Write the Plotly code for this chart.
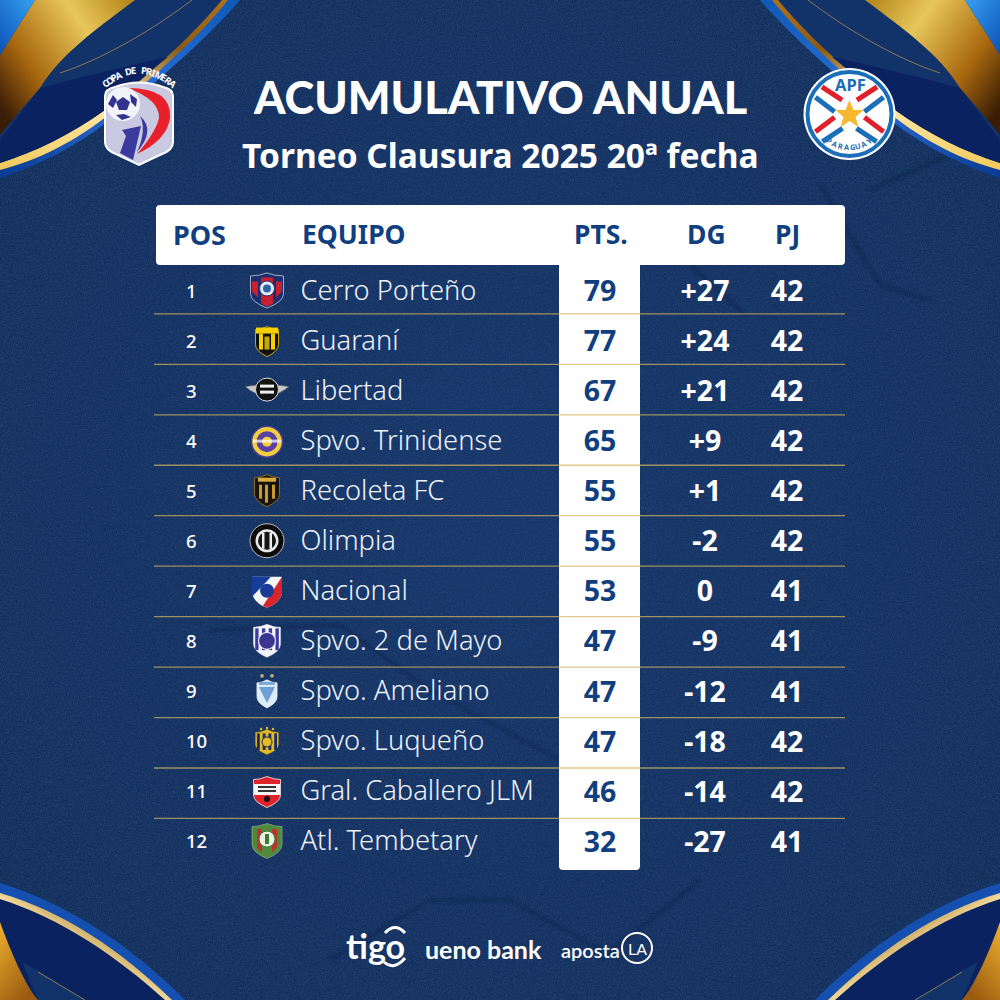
import base64
import math
import plotly.graph_objects as go

# ---------- data ----------
positions = list(range(1, 13))
teams = ["Cerro Porteño", "Guaraní", "Libertad", "Spvo. Trinidense", "Recoleta FC", "Olimpia",
         "Nacional", "Spvo. 2 de Mayo", "Spvo. Ameliano", "Spvo. Luqueño", "Gral. Caballero JLM",
         "Atl. Tembetary"]
points = [79, 77, 67, 65, 55, 55, 53, 47, 47, 47, 46, 32]
goal_diff = [27, 24, 21, 9, 1, -2, 0, -9, -12, -18, -14, -27]
played = [42, 42, 42, 42, 42, 42, 41, 41, 41, 42, 42, 41]
headers = ["POS", "EQUIPO", "PTS.", "DG", "PJ"]
title = "ACUMULATIVO ANUAL"
subtitle = "Torneo Clausura 2025 20ª fecha"

# ---------- styling ----------
FONT = "Noto Sans"
NAVY = "#0f3f7f"
ROW0, ROWH = 290.5, 50.05


def row_px(r):
    return ROW0 + (r - 1) * ROWH


def shield(cx, cy, w, h, fill, stroke="none", sw=1):
    x0, x1, t = cx - w / 2, cx + w / 2, cy - h / 2
    return (f'<path d="M{x0},{t+3} Q{cx-w/4},{t+3} {cx},{t} Q{cx+w/4},{t+3} {x1},{t+3} L{x1},{cy+h*0.1} '
            f'Q{x1},{cy+h*0.32} {cx},{cy+h/2} Q{x0},{cy+h*0.32} {x0},{cy+h*0.1} Z" '
            f'fill="{fill}" stroke="{stroke}" stroke-width="{sw}"/>')


def stripes(cx, cy, w, h, colour, n):
    s = ""
    for i in range(n):
        x = cx - w / 2 + (i + 0.5) * w / n
        s += f'<rect x="{x-w/(2*n)*0.5}" y="{cy-h/2+4}" width="{w/(2*n)}" height="{h*0.66}" fill="{colour}"/>'
    return s


def crest(r):
    c, y = 267, row_px(r)
    if r == 1:
        return (shield(c, y, 33, 35, "#1b2f6e", "#c9ccd8", 0.8)
                + f'<path d="M{c-15},{y-9} h6 v16 l-6,-6Z M{c+9},{y-9} h6 v10 l-6,6Z M{c-6},{y-13} h12 v26 l-6,3 l-6,-3Z" fill="#c8202f"/>'
                + f'<circle cx="{c}" cy="{y-2}" r="7.5" fill="#e7ebf5" stroke="#1b2f6e"/><circle cx="{c}" cy="{y-2}" r="4" fill="#2f62a8"/>')
    if r == 2:
        return (shield(c, y + 1, 23, 30, "#101010", "#f0c800", 0.8)
                + f'<rect x="{c-11}" y="{y-13}" width="22" height="6" fill="#f4d000"/>'
                + f'<rect x="{c-8}" y="{y-7}" width="4" height="16" fill="#f4d000"/><rect x="{c+4}" y="{y-7}" width="4" height="16" fill="#f4d000"/>'
                + f'<rect x="{c-2.5}" y="{y-4}" width="5" height="13" fill="#c9a800"/>')
    if r == 3:
        return (f'<path d="M{c-22},{y-4} Q{c},{y-8} {c+22},{y-4} Q{c+12},{y+5} {c},{y+5} Q{c-12},{y+5} {c-22},{y-4}Z" fill="#c8c8c8" stroke="#555" stroke-width="0.7"/>'
                + f'<circle cx="{c}" cy="{y-1}" r="11.5" fill="#111" stroke="#ddd"/>'
                + f'<rect x="{c-7}" y="{y-6}" width="14" height="3" fill="#eee"/><rect x="{c-7}" y="{y}" width="14" height="3" fill="#eee"/>')
    if r == 4:
        return (f'<circle cx="{c}" cy="{y+1}" r="15.5" fill="#f1cf3b" stroke="#4b3a9c" stroke-width="1.5"/>'
                + f'<circle cx="{c}" cy="{y+1}" r="10.5" fill="#5a3fa5"/><circle cx="{c}" cy="{y+1}" r="5" fill="#f1cf3b"/>'
                + f'<rect x="{c-14}" y="{y-1}" width="28" height="3" fill="#fff" opacity=".7"/>')
    if r == 5:
        return (shield(c, y, 25, 32, "#17140f", "#8a6a1e", 1)
                + f'<rect x="{c-8}" y="{y-6}" width="3" height="14" fill="#c9982e"/><rect x="{c+5}" y="{y-6}" width="3" height="14" fill="#c9982e"/>'
                + f'<rect x="{c-2}" y="{y-6}" width="3" height="18" fill="#c9982e"/><rect x="{c-9}" y="{y-13}" width="18" height="4" fill="#d9aa3c"/>')
    if r == 6:
        return (f'<circle cx="{c}" cy="{y}" r="17" fill="#0b0b0b" stroke="#bdbdbd" stroke-width="1"/>'
                + f'<circle cx="{c}" cy="{y}" r="11.5" fill="#e9e9e9"/><circle cx="{c}" cy="{y}" r="9" fill="#151515"/>'
                + f'<rect x="{c-5}" y="{y-8}" width="2.5" height="16" fill="#eee"/><rect x="{c+2.5}" y="{y-8}" width="2.5" height="16" fill="#eee"/>')
    if r == 7:
        return (f'<path d="M{c-15},{y-14} H{c+15} V{y+3} Q{c+12},{y+13} {c},{y+17} Q{c-12},{y+13} {c-15},{y+3}Z" fill="#f5f5f5"/>'
                + f'<path d="M{c-15},{y-14} H{c+4} L{c-15},{y+6}Z" fill="#143e9a"/>'
                + f'<path d="M{c+15},{y-14} V{y+3} Q{c+12},{y+13} {c},{y+17} L{c-4},{y+15} Z" fill="#d9232e"/>'
                + f'<circle cx="{c}" cy="{y}" r="7" fill="#1a3c96"/>')
    if r == 8:
        return (shield(c, y, 27, 33, "#f4f4fb", "#dfe0f0", 0.5)
                + stripes(c, y, 27, 33, "#3c3a9f", 4)
                + f'<circle cx="{c}" cy="{y}" r="8.5" fill="#3a358f" stroke="#e9e9f6" stroke-width="1.2"/>')
    if r == 9:
        return (f'<circle cx="{c-5}" cy="{y-15}" r="1.8" fill="#c9b27a"/><circle cx="{c+5}" cy="{y-15}" r="1.8" fill="#c9b27a"/>'
                + shield(c, y + 3, 20, 28, "#dcebf8", "#fff", 0.8)
                + f'<path d="M{c-8},{y-4} H{c+8} L{c},{y+12}Z" fill="#6f9fd4"/>'
                + f'<rect x="{c-8}" y="{y-9}" width="16" height="3" fill="#7aa9da"/>')
    if r == 10:
        return (shield(c, y + 1, 23, 25, "#e3ba22", "#b58d16", 0.5)
                + stripes(c, y + 1, 23, 25, "#1c2c62", 4)
                + f'<circle cx="{c}" cy="{y+1}" r="5" fill="#e3ba22" stroke="#1c2c62"/>'
                + f'<circle cx="{c-6}" cy="{y-12}" r="1.2" fill="#e3ba22"/><circle cx="{c}" cy="{y-13}" r="1.2" fill="#e3ba22"/><circle cx="{c+6}" cy="{y-12}" r="1.2" fill="#e3ba22"/>')
    if r == 11:
        return (shield(c, y + 1, 27, 31, "#e1222b", "#f4f4f4", 0.8)
                + f'<rect x="{c-13}" y="{y-7}" width="26" height="11" fill="#f4f4f4"/>'
                + f'<rect x="{c-9}" y="{y-5}" width="18" height="2" fill="#333"/><rect x="{c-9}" y="{y-1}" width="18" height="2" fill="#333"/>'
                + f'<circle cx="{c}" cy="{y+8}" r="3" fill="#111"/>')
    return (shield(c, y, 30, 35, "#4f8a3c", "#a9b79a", 0.6)
            + f'<path d="M{c-10},{y-12} h5 v24 l-5,-5Z M{c+5},{y-12} h5 v18 l-5,5Z" fill="#b8352b"/>'
            + f'<circle cx="{c}" cy="{y-2}" r="8" fill="#eef2e6" stroke="#3d7a33"/>'
            + f'<rect x="{c-2}" y="{y-7}" width="4" height="10" fill="#3d7a33"/>')


corner_top = """
<path d="M240,0 C210,35 170,70 120,112 C80,145 40,165 0,178 L0,0Z" fill="url(#blue)"/>
<path d="M228,0 C200,35 170,62 112,112 C75,142 38,160 0,170 L0,0Z" fill="url(#goldline)"/>
<path d="M222,0 C190,38 160,64 105,110 C70,135 35,152 0,163 L0,0Z" fill="#12326a"/>
<path d="M0,163 C35,152 70,135 105,110 C125,95 145,75 168,57 C120,68 75,78 40,88 L0,140Z" fill="#0a2260"/>
<path d="M35,0 L135,0 C95,30 60,55 40,88 C25,105 12,120 0,135 L0,55Z" fill="url(#gold)"/>
<path d="M0,0 L35,0 L0,55Z" fill="url(#dots)"/>
<path d="M192,0 C150,32 100,60 60,73" fill="none" stroke="#a88a45" stroke-width="0.8"/>
"""
corner_bottom = """
<path d="M0,883 C70,905 130,945 185,1000 L0,1000Z" fill="#1550b0"/>
<path d="M0,893 C65,912 120,950 172,1000 L0,1000Z" fill="url(#goldline)"/>
<path d="M0,899 C60,918 115,955 165,1000 L0,1000Z" fill="#0a2260"/>
<path d="M22,962 L40,972 L85,1000 L38,1000Z" fill="#12326a"/>
<path d="M0,922 C10,950 25,985 38,1000 L0,1000Z" fill="url(#gold2)"/>
<path d="M38,972 L85,1000" fill="none" stroke="#a88a45" stroke-width="0.8"/>
"""
copa_logo = """
<path d="M105,96 Q105,89 115,87 Q139,78 163,87 Q173,89 173,96 V142 Q173,150 162,154 L139,165 L116,154 Q105,150 105,142Z" fill="#c9c9e2" stroke="#fff" stroke-width="2"/>
<path d="M128,88 Q172,88 170,118 Q167,140 137,154 Q156,132 159,118 Q160,100 128,88Z" fill="#e8202a"/>
<path d="M140,116 Q156,130 137,152 Q147,130 140,116Z" fill="#3a3a9c"/>
<path d="M122,130 L141,126 L133,160 L120,153 L126,136Z" fill="#3a3a9c"/>
<circle cx="123" cy="104" r="17" fill="#f3f3fa"/>
<path d="M123,97 L130,102 L127,110 L119,110 L116,102Z M108,104 L113,95 L117,100 L113,108Z M130,94 L137,99 L136,107 L131,102Z M116,115 L124,114 L131,117 L122,120Z" fill="#33338f"/>
"""


def apf_logo():
    cx, cy = 849.5, 114
    s = (f'<circle cx="{cx}" cy="{cy}" r="46" fill="#fff"/><circle cx="{cx}" cy="{cy}" r="42" fill="none" stroke="#1b6fb8" stroke-width="4"/>')
    for (dx, dy, col, a) in [(-17.5, -20.5, "#e0202a", 33), (17.5, -20.5, "#e0202a", -33), (-24.5, -9.5, "#1b6fb8", 37), (24.5, -9.5, "#1b6fb8", -37),
                             (-24.5, 10.5, "#e0202a", -37), (24.5, 10.5, "#e0202a", 37), (-17, 21, "#1b6fb8", -33), (17, 21, "#1b6fb8", 33)]:
        s += f'<rect x="{cx+dx-12}" y="{cy+dy-2.5}" width="24" height="5" fill="{col}" transform="rotate({a} {cx+dx} {cy+dy})"/>'
    s += f'<polygon points="{cx},{cy-14} {cx+4},{cy-4} {cx+14},{cy-4} {cx+6},{cy+3} {cx+9},{cy+13} {cx},{cy+7} {cx-9},{cy+13} {cx-6},{cy+3} {cx-14},{cy-4} {cx-4},{cy-4}" fill="#f5b82e"/>'
    return s


svg = f"""<svg xmlns="http://www.w3.org/2000/svg" width="1000" height="1000" viewBox="0 0 1000 1000">
<defs>
<radialGradient id="bg" cx="50%" cy="50%" r="70%"><stop offset="0" stop-color="#14356c"/><stop offset="1" stop-color="#0f2a58"/></radialGradient>
<linearGradient id="gold" x1="0" y1="0.8" x2="1" y2="0.1"><stop offset="0" stop-color="#3a1d04"/><stop offset=".3" stop-color="#a8680f"/><stop offset=".7" stop-color="#e8c75a"/><stop offset="1" stop-color="#b98a1e"/></linearGradient>
<linearGradient id="gold2" x1="0" y1="0" x2="0.6" y2="1"><stop offset="0" stop-color="#f0b030"/><stop offset="1" stop-color="#9a5c10"/></linearGradient>
<linearGradient id="goldline" x1="0" y1="1" x2="1" y2="0"><stop offset="0" stop-color="#f2c85a"/><stop offset=".45" stop-color="#ffe9a8"/><stop offset=".75" stop-color="#8a5a14"/><stop offset="1" stop-color="#b0721c"/></linearGradient>
<linearGradient id="blue" x1="0" y1="1" x2="1" y2="0"><stop offset="0" stop-color="#0a3a90"/><stop offset=".5" stop-color="#2a6fd8"/><stop offset="1" stop-color="#0f5ab8"/></linearGradient>
<linearGradient id="dots" x1="0" y1="1" x2="1" y2="0"><stop offset="0" stop-color="#0c52b8"/><stop offset="1" stop-color="#35a0f0"/></linearGradient>
<filter id="grain" x="0" y="0" width="100%" height="100%"><feTurbulence type="fractalNoise" baseFrequency="0.75" numOctaves="2" seed="4"/><feColorMatrix values="0 0 0 0 0.02  0 0 0 0 0.06  0 0 0 0 0.16  1.4 1.4 0 0 -1.0"/></filter>
<filter id="soft"><feGaussianBlur stdDeviation="1.6"/></filter>
</defs>
<rect width="1000" height="1000" fill="url(#bg)"/>
<rect width="1000" height="1000" filter="url(#grain)" opacity=".8"/>
<g fill="none" stroke="#0a2148" stroke-width="2.5" opacity=".6" filter="url(#soft)">
<path d="M820,185 L880,285 L930,300"/><path d="M690,265 L745,315"/><path d="M870,190 L960,150"/>
<path d="M210,630 L340,625 L430,690 L560,760"/><path d="M560,640 L640,730"/><path d="M330,960 L430,900 L510,900 L620,960"/><path d="M600,960 L700,880"/>
</g>
<g>{corner_top}{corner_bottom}</g>
<g transform="translate(1000,0) scale(-1,1)">{corner_top}{corner_bottom}</g>
{copa_logo}{apf_logo()}
{"".join(crest(r) for r in positions)}
<circle cx="637" cy="948" r="15" fill="none" stroke="#fff" stroke-width="2"/>
<path d="M385,933 Q395,922 405,933 M384,962 Q394,971 405,958" fill="none" stroke="#fff" stroke-width="3"/>
</svg>"""
bg_uri = "data:image/svg+xml;base64," + base64.b64encode(svg.encode()).decode()

# y axis is in ranks, x axis in 0-1000 layout units
y_top = 1 - ROW0 / ROWH
y_bottom = 1 + (1000 - ROW0) / ROWH
TEXT_DROP = 2.5 / ROWH  # text baseline correction, in rows


def text_trace(x, y, text, color, size, weight=400, pos="middle center", drop=TEXT_DROP):
    return go.Scatter(x=[x] * len(y), y=[v + drop for v in y], text=text, mode="text", textposition=pos,
                      hoverinfo="skip", showlegend=False,
                      textfont=dict(family=FONT, color=color, size=size, weight=weight))


fig = go.Figure()

sep_x, sep_y = [], []
for r in positions[:-1]:
    sep_x += [154, 845, None]
    sep_y += [r + 0.5 + (r - 5) * 0.008, r + 0.5 + (r - 5) * 0.008, None]
fig.add_trace(go.Scatter(x=sep_x, y=sep_y, mode="lines", hoverinfo="skip", showlegend=False,
                         line=dict(color="rgba(214,180,96,0.72)", width=1.3)))

dg_text = [f"+{d}" if d > 0 else str(d) for d in goal_diff]
VALUE_DROP = 3.5 / ROWH
fig.add_trace(text_trace(186, positions, [str(p) for p in positions], "white", 18.5, 500, "middle right"))
fig.add_trace(text_trace(300.5, positions, teams, "#eef3fa", 27.3, 300, "middle right"))
fig.add_trace(text_trace(600, positions, [str(p) for p in points], NAVY, 28.5, 700, drop=VALUE_DROP))
fig.add_trace(text_trace(705, positions, dg_text, "white", 28.5, 700, drop=VALUE_DROP))
fig.add_trace(text_trace(787, positions, [str(p) for p in played], "white", 28.5, 700, drop=VALUE_DROP))


def paper_y(px):
    return 1 - px / 1000


header_path = ("M{0},{1} L{2},{1} Q{3},{1} {3},{4} L{3},{5} Q{3},{6} {2},{6} L{7},{6} L{7},{8} Q{7},{9} {10},{9} "
               "L{11},{9} Q{12},{9} {12},{8} L{12},{6} L{13},{6} Q{14},{6} {14},{5} L{14},{4} Q{14},{1} {0},{1} Z").format(
    160 / 1000, paper_y(205), 841 / 1000, 845 / 1000, paper_y(209), paper_y(261), paper_y(265),
    640 / 1000, paper_y(866), paper_y(870), 636 / 1000, 563 / 1000, 559 / 1000, 160 / 1000, 156 / 1000)
shapes = [dict(type="path", xref="paper", yref="paper", path=header_path, fillcolor="white",
               line=dict(width=0), layer="below")]

annotations = []


def note(x, px, text, size, color="white", weight=700, anchor="center", family=FONT, angle=0):
    annotations.append(dict(xref="x", yref="paper", x=x, y=paper_y(px), text=text, showarrow=False,
                            xanchor=anchor, yanchor="middle", textangle=angle,
                            font=dict(family=family, size=size, color=color, weight=weight)))


def arc_text(text, cx, cy, radius, start, end, size, color, bottom=False):
    n = len(text)
    for i, ch in enumerate(text):
        if ch == " ":
            continue
        a = start + (end - start) * i / (n - 1)
        rad = math.radians(a)
        if bottom:
            x, y, ang = cx + radius * math.sin(rad), cy + radius * math.cos(rad), -a
        else:
            x, y, ang = cx + radius * math.sin(rad), cy - radius * math.cos(rad), a
        note(x, y, ch, size, color, angle=ang)


note(500, 97, title, 45, family="Lato", weight=900)
note(500, 155, subtitle, 33.5)
note(199.5, 234, headers[0], 27, NAVY)
note(299.5, 234, headers[1], 26.5, NAVY, anchor="left")
note(601, 234, headers[2], 26.5, NAVY)
note(706, 234, headers[3], 26.5, NAVY)
note(787, 234, headers[4], 26.5, NAVY)
arc_text("COPA DE PRIMERA", 139, 118, 47.5, -44, 44, 9.5, "white")
note(850, 85, "APF", 16.5, "#1b6fb8")
arc_text("PARAGUAY", 849.5, 114, 33.5, -36, 36, 7.5, "#1b6fb8", bottom=True)
note(375, 945, "tigo", 34, family="Lato")
note(483, 949, "ueno bank", 25, family="Lato")
note(590, 950, "aposta", 20, family="Lato", weight=600)
note(637, 948, "LA", 16, family="Lato", weight=400)

fig.update_layout(
    width=1000, height=1000, margin=dict(l=0, r=0, t=0, b=0), autosize=False,
    paper_bgcolor="#12305f", plot_bgcolor="rgba(0,0,0,0)",
    xaxis=dict(range=[0, 1000], visible=False, fixedrange=True),
    yaxis=dict(range=[y_bottom, y_top], visible=False, fixedrange=True),
    shapes=shapes, annotations=annotations,
    images=[dict(source=bg_uri, xref="paper", yref="paper", x=0, y=1, sizex=1, sizey=1,
                 xanchor="left", yanchor="top", sizing="stretch", layer="below")],
)
fig.write_html("out.html", config=dict(displayModeBar=False),
               post_script="document.body.style.margin='0';document.documentElement.style.overflow='hidden';")
